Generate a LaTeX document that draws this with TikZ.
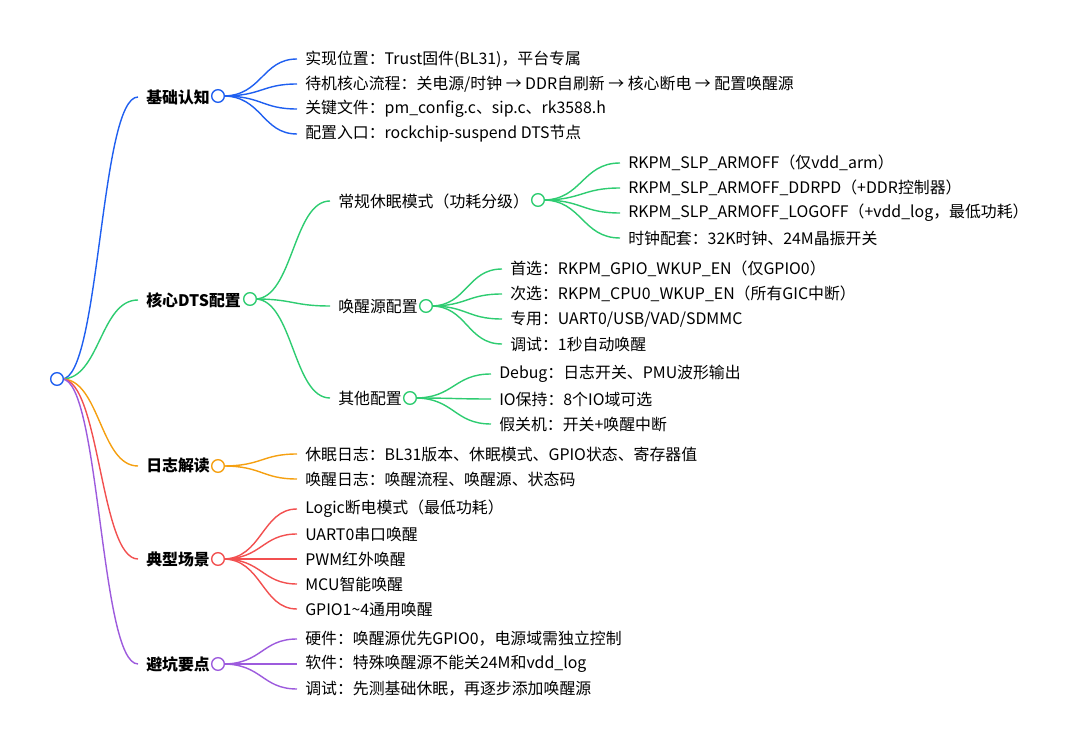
\documentclass[tikz,border=0pt]{standalone}
\usepackage{fontspec}
\setmainfont{Noto Sans CJK SC}
\usetikzlibrary{positioning}
\definecolor{cblue}{HTML}{1F5FF0}
\definecolor{cgreen}{HTML}{2ECC71}
\definecolor{corange}{HTML}{F5A011}
\definecolor{cred}{HTML}{F25050}
\definecolor{cpurple}{HTML}{9D5BDD}
\tikzstyle{dot}=[circle, fill=white, inner sep=0pt, minimum size=9pt, line width=1pt]
\tikzstyle{txt}=[anchor=west, inner sep=0pt, font=\fontsize{11.3}{13}\selectfont]
\tikzstyle{head}=[txt, font=\fontsize{11.3}{13}\selectfont\bfseries]
\tikzstyle{link}=[line width=1pt]
\begin{document}
\begin{tikzpicture}[x=0.025cm, y=-0.025cm]
        \useasboundingbox (0,0) rectangle (1080,747);
        % level one
        \node[head] (L1) at (146, 97) {基础认知};
        \node[head] (L2) at (146, 300) {核心DTS配置};
        \node[head] (L3) at (146, 466) {日志解读};
        \node[head] (L4) at (146, 559) {典型场景};
        \node[head] (L5) at (146, 664) {避坑要点};
        % level two
        \node[txt] (M1) at (338, 201) {常规休眠模式（功耗分级）};
        \node[txt] (M2) at (338, 306) {唤醒源配置};
        \node[txt] (M3) at (338, 398) {其他配置};
        % connectors from root
        \coordinate (root) at (62, 379);
        \foreach \n/\c/\y in {L1/cblue/97, L2/cgreen/300, L3/corange/466, L4/cred/559, L5/cpurple/664}
            \draw[link, \c] (root) .. controls (100, 379) and (100, \y) .. (138, \y);
        % connectors from level one
        \coordinate (P1) at (223, 96);
        \coordinate (P2) at (255, 299);
        \coordinate (P3) at (223, 466);
        \coordinate (P4) at (223, 559);
        \coordinate (P5) at (223, 664);
        \coordinate (Q1) at (543, 200);
        \coordinate (Q2) at (431, 306);
        \coordinate (Q3) at (415, 398);
        \foreach \y in {201, 306, 398}
            \draw[link, cgreen] (P2) .. controls (293, 299) and (293, \y) .. (330, \y);
        % leaves
        \foreach \t [count=\i] in {实现位置：Trust固件(BL31)，平台专属,
                待机核心流程：关电源/时钟 → DDR自刷新 → 核心断电 → 配置唤醒源,
                关键文件：pm\_config.c、sip.c、rk3588.h,
                配置入口：rockchip-suspend DTS节点} {
            \node[txt] (A\i) at (305, 34+25*\i) {\t};
            \draw[link, cblue] (P1) .. controls (262, 96) and (262, 34+25*\i) .. (297, 34+25*\i);
        }
        \foreach \t [count=\i] in {RKPM\_SLP\_ARMOFF（仅vdd\_arm）,
                RKPM\_SLP\_ARMOFF\_DDRPD（+DDR控制器）,
                RKPM\_SLP\_ARMOFF\_LOGOFF（+vdd\_log，最低功耗）,
                时钟配套：32K时钟、24M晶振开关} {
            \node[txt] (B\i) at (628, 138+25*\i) {\t};
            \draw[link, cgreen] (Q1) .. controls (582, 200) and (582, 138+25*\i) .. (620, 138+25*\i);
        }
        \foreach \t [count=\i] in {首选：RKPM\_GPIO\_WKUP\_EN（仅GPIO0）,
                次选：RKPM\_CPU0\_WKUP\_EN（所有GIC中断）,
                专用：UART0/USB/VAD/SDMMC,
                调试：1秒自动唤醒} {
            \node[txt] (C\i) at (510, 244+25*\i) {\t};
            \draw[link, cgreen] (Q2) .. controls (467, 306) and (467, 244+25*\i) .. (502, 244+25*\i);
        }
        \foreach \t [count=\i] in {Debug：日志开关、PMU波形输出,
                IO保持：8个IO域可选,
                假关机：开关+唤醒中断} {
            \node[txt] (D\i) at (499, 349+25*\i) {\t};
            \draw[link, cgreen] (Q3) .. controls (454, 398) and (454, 349+25*\i) .. (491, 349+25*\i);
        }
        \foreach \t [count=\i] in {休眠日志：BL31版本、休眠模式、GPIO状态、寄存器值,
                唤醒日志：唤醒流程、唤醒源、状态码} {
            \node[txt] (E\i) at (305, 429+25*\i) {\t};
            \draw[link, corange] (P3) .. controls (262, 466) and (262, 429+25*\i) .. (297, 429+25*\i);
        }
        \foreach \t [count=\i] in {Logic断电模式（最低功耗）,
                UART0串口唤醒, PWM红外唤醒, MCU智能唤醒, GPIO1\textasciitilde 4通用唤醒} {
            \node[txt] (F\i) at (305, 484+25*\i) {\t};
            \draw[link, cred] (P4) .. controls (262, 559) and (262, 484+25*\i) .. (297, 484+25*\i);
        }
        \foreach \t [count=\i] in {硬件：唤醒源优先GPIO0，电源域需独立控制,
                软件：特殊唤醒源不能关24M和vdd\_log,
                调试：先测基础休眠，再逐步添加唤醒源} {
            \node[txt] (G\i) at (305, 614+25*\i) {\t};
            \draw[link, cpurple] (P5) .. controls (262, 664) and (262, 614+25*\i) .. (297, 614+25*\i);
        }
        % circles
        \node[dot, draw=cblue] (root0) at (57, 379) {};
        \node[dot, draw=cblue] at (218, 96) {};
        \node[dot, draw=cgreen] at (250, 299) {};
        \node[dot, draw=corange] at (218, 466) {};
        \node[dot, draw=cred] at (218, 559) {};
        \node[dot, draw=cpurple] at (218, 664) {};
        \node[dot, draw=cgreen] at (538, 200) {};
        \node[dot, draw=cgreen] at (426, 306) {};
        \node[dot, draw=cgreen] at (410, 398) {};
    \end{tikzpicture}
\end{document}
